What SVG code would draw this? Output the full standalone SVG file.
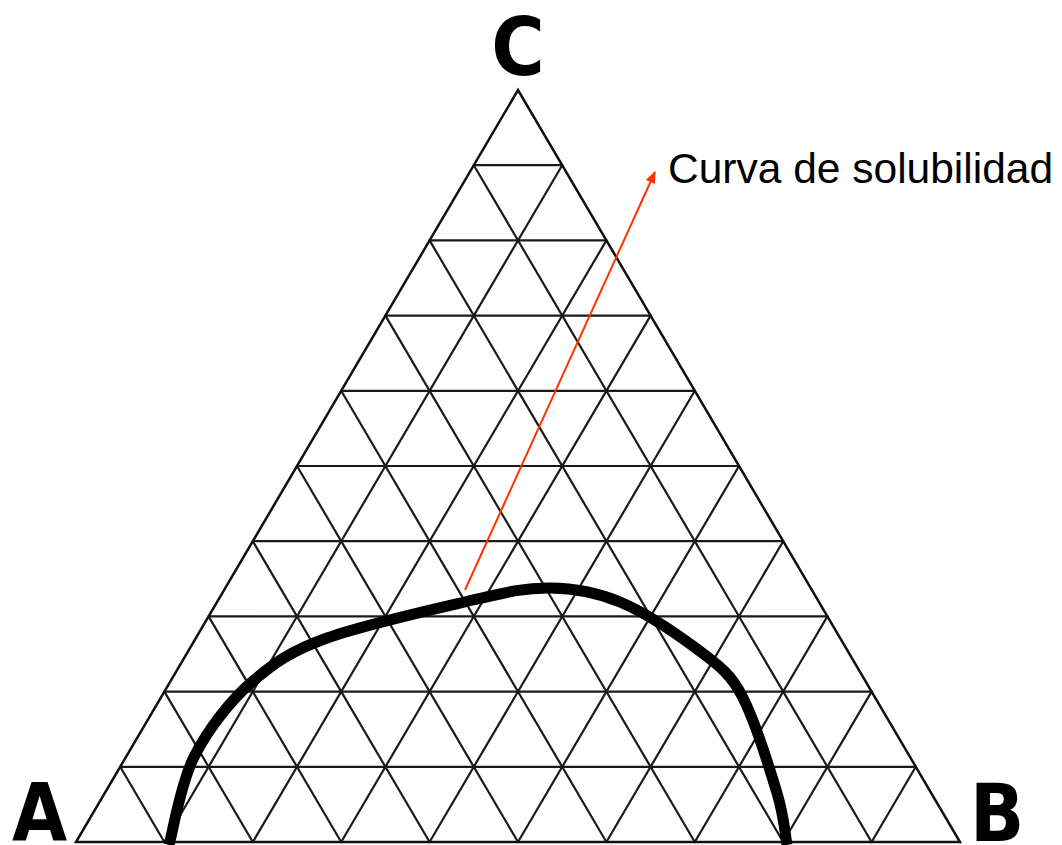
<svg xmlns="http://www.w3.org/2000/svg" width="1062" height="845" viewBox="0 0 1062 845">
  <style>
    .grid line { stroke: #1a1a1a; stroke-width: 2.2; stroke-linecap: round; }
    .edge { fill: none; stroke: #111; stroke-width: 2.5; stroke-linejoin: miter; }
    .vertex { font-family: "DejaVu Sans", "Liberation Sans", sans-serif; font-weight: bold; font-size: 81px; fill: #000; }
    .label { font-family: "Liberation Sans", Arial, sans-serif; font-size: 42.5px; fill: #000; }
    .curve { fill: none; stroke: #000; stroke-width: 11; stroke-linecap: butt; stroke-linejoin: round; }
    .pointer { stroke: #ff3300; stroke-width: 2; fill: none; }
  </style>
  <defs>
    <marker id="arrowhead" viewBox="0 0 12 10" refX="11" refY="5" markerWidth="13" markerHeight="10" markerUnits="userSpaceOnUse" orient="auto">
      <path d="M0,0 L12,5 L0,10 Z" fill="#ff3300"/>
    </marker>
  </defs>
  <rect width="1062" height="845" fill="#ffffff"/>

  <g id="grid" class="grid">
    <line x1="473.8" y1="165.2" x2="562.2" y2="165.2"/>
    <line x1="429.6" y1="240.4" x2="606.4" y2="240.4"/>
    <line x1="385.4" y1="315.6" x2="650.6" y2="315.6"/>
    <line x1="341.2" y1="390.8" x2="694.8" y2="390.8"/>
    <line x1="297" y1="466" x2="739" y2="466"/>
    <line x1="252.8" y1="541.2" x2="783.2" y2="541.2"/>
    <line x1="208.6" y1="616.4" x2="827.4" y2="616.4"/>
    <line x1="164.4" y1="691.6" x2="871.6" y2="691.6"/>
    <line x1="120.2" y1="766.8" x2="915.8" y2="766.8"/>

    <line x1="164.4" y1="842" x2="562.2" y2="165.2"/>
    <line x1="252.8" y1="842" x2="606.4" y2="240.4"/>
    <line x1="341.2" y1="842" x2="650.6" y2="315.6"/>
    <line x1="429.6" y1="842" x2="694.8" y2="390.8"/>
    <line x1="518" y1="842" x2="739" y2="466"/>
    <line x1="606.4" y1="842" x2="783.2" y2="541.2"/>
    <line x1="694.8" y1="842" x2="827.4" y2="616.4"/>
    <line x1="783.2" y1="842" x2="871.6" y2="691.6"/>
    <line x1="871.6" y1="842" x2="915.8" y2="766.8"/>

    <line x1="164.4" y1="842" x2="120.2" y2="766.8"/>
    <line x1="252.8" y1="842" x2="164.4" y2="691.6"/>
    <line x1="341.2" y1="842" x2="208.6" y2="616.4"/>
    <line x1="429.6" y1="842" x2="252.8" y2="541.2"/>
    <line x1="518" y1="842" x2="297" y2="466"/>
    <line x1="606.4" y1="842" x2="341.2" y2="390.8"/>
    <line x1="694.8" y1="842" x2="385.4" y2="315.6"/>
    <line x1="783.2" y1="842" x2="429.6" y2="240.4"/>
    <line x1="871.6" y1="842" x2="473.8" y2="165.2"/>
  </g>

  <g id="triangle">
    <polygon class="edge" points="76,842 960,842 518,90"/>
  </g>

  <g id="vertex-A"><text class="vertex" transform="translate(12,841) scale(0.88,1)" x="0" y="0">A</text></g>
  <g id="vertex-B"><text class="vertex" transform="translate(970,841) scale(0.88,1)" x="0" y="0">B</text></g>
  <g id="vertex-C"><text class="vertex" transform="translate(518,75) scale(0.9,1)" x="0" y="0" text-anchor="middle">C</text></g>

  <g id="solubility-curve">
    <path class="curve" d="M169,845 C173.2,830.3 180.2,784.5 194,757 C207.8,729.5 231,699.5 253,681 C275,662.5 290.3,651.3 327,638 C363.7,624.7 435.8,608.7 473,600 C510.2,591.3 525.5,587.7 550,588 C574.5,588.3 595.5,591.7 620,602 C644.5,612.3 676.5,633.7 697,649 C717.5,664.3 731.7,674.2 743,698 C756.3,723.8 769.7,768.8 777,793 C784.3,817.2 785.3,836.3 787,845"/>
  </g>

  <g id="label-curva">
    <text class="label" x="668" y="183">Curva de solubilidad</text>
  </g>

  <g id="connectors">
    <line class="pointer" x1="465" y1="590" x2="655" y2="172" marker-end="url(#arrowhead)"/>
  </g>
</svg>
